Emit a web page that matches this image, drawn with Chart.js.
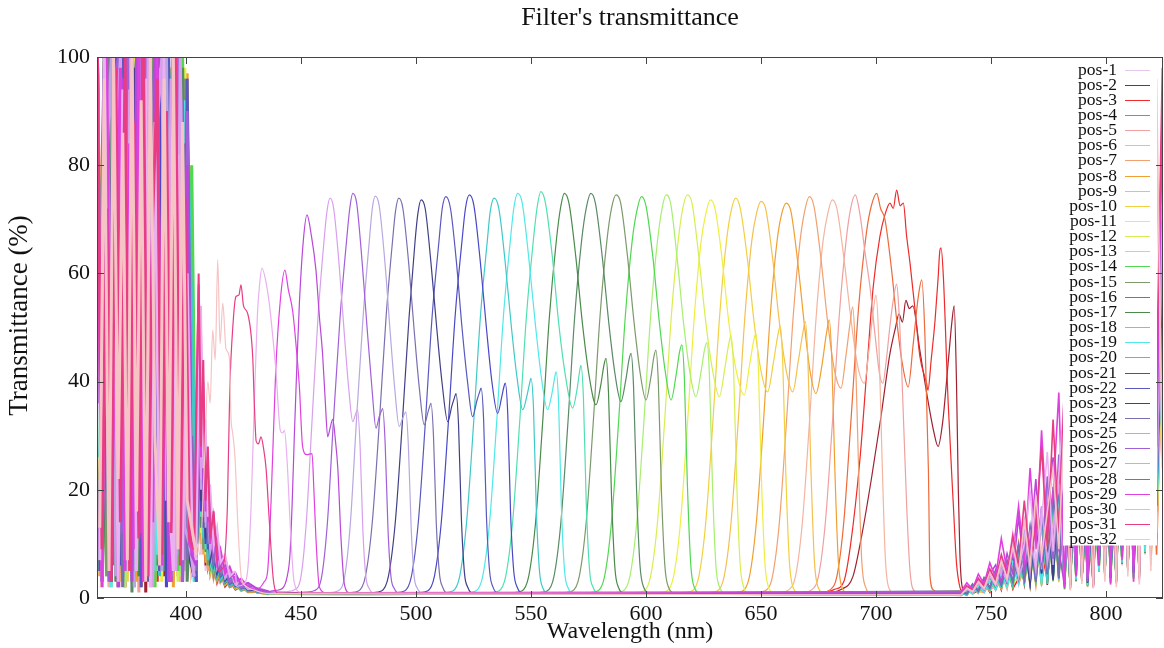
<!DOCTYPE html>
<html>
<head>
<meta charset="utf-8">
<title>Filter's transmittance</title>
<script src="https://cdn.jsdelivr.net/npm/chart.js@4.4.1/dist/chart.umd.min.js"></script>
<style>
  html, body { margin: 0; padding: 0; background: #fff; }
</style>
</head>
<body>
<canvas id="chart" width="1164" height="648"></canvas>
<script>
const seriesNames = ['pos-1', 'pos-2', 'pos-3', 'pos-4', 'pos-5', 'pos-6', 'pos-7', 'pos-8',
  'pos-9', 'pos-10', 'pos-11', 'pos-12', 'pos-13', 'pos-14', 'pos-15', 'pos-16',
  'pos-17', 'pos-18', 'pos-19', 'pos-20', 'pos-21', 'pos-22', 'pos-23', 'pos-24',
  'pos-25', 'pos-26', 'pos-27', 'pos-28', 'pos-29', 'pos-30', 'pos-31', 'pos-32'];

const wavelengthTicks = [400, 450, 500, 550, 600, 650, 700, 750, 800];
const transmittanceTicks = [0, 20, 40, 60, 80, 100];

// wavelengths (nm) of the sampled noise below 405 nm (odd / even positions)
const leftGridA = [361.5, 363.5, 365.5, 367.5, 369.5, 371.5, 373.5, 375.5, 377.5, 379.5, 381.5,
  383.5, 385.5, 387.5, 389.5, 391.5, 393.5, 395.5, 397.5, 399.5, 401.5, 403.5];
const leftGridB = [362.5, 364.5, 366.5, 368.5, 370.5, 372.5, 374.5, 376.5, 378.5, 380.5, 382.5,
  384.5, 386.5, 388.5, 390.5, 392.5, 394.5, 396.5, 398.5, 400.5, 402.5, 404.5];
const decayGrid = [405.5, 406.5, 407.5, 408.5, 409.5, 410.5, 412, 413.5, 415, 417, 419, 421.5, 424, 427, 431, 436];
const rightGrid = [737, 739.5, 742, 744.5, 747, 749.5, 752, 754.5, 757, 759.5, 762, 764.5, 767, 769.5,
  772, 774.5, 777, 779.5, 782, 784.5, 787, 789.5, 792, 794.5, 797, 799.5, 802, 804.5, 807, 809.5,
  812, 814.5, 817, 819.5, 822, 824.5];

// transmittance (%) on the grids above, one row per position
const leftNoise = [
  [88, 3, 95, 12, 100, 2, 72, 16, 98, 4, 85, 22, 100, 6, 92, 2, 97, 12, 88, 5, 60, 8],
  [6, 97, 18, 100, 2, 80, 10, 99, 7, 90, 1, 100, 20, 76, 4, 98, 14, 93, 3, 70, 10, 5],
  [96, 10, 100, 5, 70, 99, 2, 88, 24, 100, 6, 79, 95, 3, 100, 16, 82, 6, 96, 12, 55, 6],
  [62, 100, 4, 94, 14, 100, 8, 73, 99, 2, 88, 30, 100, 7, 91, 12, 100, 4, 78, 16, 25, 4],
  [100, 6, 85, 24, 100, 4, 97, 12, 90, 1, 100, 18, 80, 5, 99, 30, 9, 97, 3, 86, 20, 7],
  [14, 92, 2, 100, 34, 8, 100, 4, 84, 28, 97, 2, 72, 100, 10, 90, 5, 100, 24, 90, 5, 9],
  [98, 20, 100, 7, 87, 3, 100, 30, 95, 8, 70, 100, 4, 92, 18, 100, 7, 83, 100, 14, 72, 5],
  [4, 100, 28, 88, 6, 100, 16, 96, 3, 99, 12, 85, 100, 6, 76, 96, 2, 100, 20, 97, 12, 6],
  [90, 9, 100, 2, 96, 24, 100, 5, 80, 100, 14, 94, 4, 100, 30, 6, 98, 10, 92, 30, 80, 7],
  [22, 99, 5, 100, 10, 86, 3, 100, 30, 90, 7, 100, 20, 81, 100, 3, 95, 26, 100, 9, 45, 3],
  [100, 2, 90, 34, 100, 8, 95, 15, 100, 4, 88, 9, 100, 28, 3, 99, 16, 100, 6, 98, 40, 6],
  [9, 95, 38, 100, 4, 99, 24, 6, 100, 12, 96, 40, 2, 100, 50, 8, 100, 3, 90, 28, 14, 3],
  [94, 14, 100, 5, 78, 100, 2, 97, 18, 100, 5, 90, 28, 100, 8, 96, 24, 100, 4, 80, 30, 5],
  [5, 100, 12, 96, 28, 3, 100, 36, 7, 100, 22, 98, 2, 87, 100, 14, 94, 5, 100, 40, 80, 8],
  [100, 30, 4, 98, 9, 100, 18, 90, 2, 99, 32, 5, 100, 12, 92, 100, 4, 86, 20, 96, 10, 4],
  [16, 88, 100, 6, 97, 13, 100, 1, 92, 26, 100, 10, 82, 100, 5, 40, 100, 14, 98, 3, 22, 3],
  [99, 5, 34, 100, 3, 95, 9, 100, 40, 4, 100, 16, 96, 6, 100, 26, 3, 99, 34, 90, 7, 5],
  [8, 100, 15, 82, 100, 4, 92, 30, 100, 9, 86, 100, 5, 98, 18, 90, 100, 8, 84, 16, 55, 6],
  [100, 10, 96, 2, 100, 40, 5, 99, 13, 96, 3, 100, 30, 8, 100, 50, 4, 100, 11, 92, 40, 3],
  [26, 96, 4, 100, 20, 90, 100, 3, 86, 100, 9, 38, 100, 4, 94, 12, 100, 28, 5, 88, 54, 6],
  [100, 3, 88, 16, 100, 6, 96, 100, 4, 80, 100, 11, 94, 24, 100, 2, 90, 100, 13, 78, 9, 4],
  [5, 100, 28, 98, 8, 100, 13, 86, 100, 2, 97, 32, 100, 5, 82, 100, 10, 90, 3, 96, 12, 3],
  [96, 16, 100, 3, 90, 26, 100, 7, 98, 36, 100, 3, 86, 100, 13, 94, 7, 100, 30, 84, 8, 4],
  [12, 98, 6, 100, 40, 2, 94, 100, 11, 100, 5, 88, 100, 20, 96, 3, 100, 15, 92, 7, 30, 5],
  [100, 8, 80, 100, 4, 98, 18, 100, 2, 90, 28, 100, 9, 96, 5, 100, 36, 6, 100, 13, 10, 4],
  [36, 100, 3, 92, 100, 12, 100, 5, 96, 15, 100, 4, 98, 32, 100, 7, 88, 100, 3, 90, 14, 6],
  [98, 4, 100, 24, 84, 100, 7, 94, 30, 100, 10, 100, 2, 88, 100, 18, 96, 5, 100, 26, 12, 4],
  [9, 92, 16, 100, 2, 96, 36, 3, 100, 12, 90, 7, 100, 14, 86, 3, 98, 20, 9, 80, 8, 6],
  [90, 2, 100, 8, 60, 98, 5, 84, 9, 100, 3, 76, 14, 100, 6, 68, 3, 94, 12, 56, 10, 8],
  [7, 100, 12, 80, 3, 94, 16, 100, 5, 66, 96, 2, 88, 8, 100, 20, 5, 82, 7, 60, 14, 7],
  [100, 9, 72, 3, 98, 14, 100, 5, 88, 11, 100, 4, 70, 96, 8, 90, 12, 100, 6, 74, 11, 9],
  [13, 96, 5, 100, 22, 86, 7, 100, 16, 92, 3, 100, 30, 6, 96, 14, 100, 9, 88, 18, 13, 8]
];

const decayNoise = [
  [20, 8, 14, 5, 9, 4, 6, 2.5, 4, 2, 3, 1.5, 2, 1, 1.2, 0.8],
  [28, 10, 18, 6, 11, 5, 7, 3, 5, 2.2, 3.2, 1.6, 2.2, 1.1, 1.3, 0.9],
  [15, 24, 9, 13, 6, 9, 4, 6, 3, 4, 2, 2.5, 1.4, 1.8, 1, 0.7],
  [32, 12, 20, 7, 12, 5, 8, 3.5, 5, 2.5, 3.5, 1.8, 2.4, 1.2, 1.4, 0.9],
  [18, 26, 10, 15, 7, 10, 5, 6.5, 3.5, 4.2, 2.2, 2.8, 1.5, 1.9, 1.1, 0.8],
  [36, 14, 22, 8, 13, 6, 8.5, 4, 5.5, 2.8, 3.8, 2, 2.5, 1.3, 1.5, 1],
  [12, 22, 8, 14, 5, 9, 3.5, 6, 2.8, 4, 2, 2.6, 1.3, 1.7, 1, 0.8],
  [30, 10, 19, 6.5, 12, 4.5, 7.5, 3.2, 5, 2.4, 3.3, 1.7, 2.3, 1.1, 1.3, 0.9],
  [22, 30, 12, 17, 8, 11, 5, 7, 3.5, 4.5, 2.4, 3, 1.6, 2, 1.1, 0.8],
  [38, 15, 24, 9, 14, 6, 9, 4, 6, 3, 4, 2, 2.6, 1.3, 1.5, 1],
  [16, 28, 10, 16, 6, 10, 4.5, 6.5, 3, 4.3, 2.2, 2.8, 1.5, 1.8, 1, 0.7],
  [34, 12, 21, 8, 13, 5, 8, 3.8, 5.2, 2.6, 3.6, 1.8, 2.4, 1.2, 1.4, 0.9],
  [20, 32, 12, 18, 8, 12, 5.5, 7.5, 3.8, 4.8, 2.5, 3.1, 1.7, 2, 1.2, 0.8],
  [42, 16, 26, 10, 15, 6.5, 9.5, 4.2, 6.2, 3, 4.2, 2.1, 2.7, 1.4, 1.6, 1],
  [14, 25, 9, 15, 6, 9.5, 4, 6.2, 3, 4.1, 2.1, 2.7, 1.4, 1.8, 1, 0.8],
  [36, 13, 22, 8.5, 13.5, 5.5, 8.5, 3.8, 5.5, 2.7, 3.7, 1.9, 2.5, 1.2, 1.5, 0.9],
  [24, 34, 13, 19, 8.5, 12, 5.5, 7.5, 3.8, 4.8, 2.5, 3.1, 1.7, 2.1, 1.2, 0.8],
  [40, 15, 25, 9, 15, 6, 9, 4, 6, 3, 4, 2, 2.6, 1.3, 1.5, 1],
  [54, 20, 30, 11, 17, 8, 11, 5, 7, 3.5, 4.6, 2.4, 3, 1.5, 1.7, 1.1],
  [18, 30, 11, 17, 7, 11, 5, 7, 3.4, 4.5, 2.3, 2.9, 1.5, 1.9, 1.1, 0.8],
  [44, 16, 28, 10, 16, 7, 10, 4.5, 6.5, 3.2, 4.3, 2.2, 2.8, 1.4, 1.6, 1],
  [22, 36, 13, 20, 9, 13, 6, 8, 4, 5, 2.6, 3.2, 1.8, 2.1, 1.2, 0.9],
  [48, 18, 30, 11, 18, 7.5, 11, 5, 7, 3.4, 4.5, 2.3, 2.9, 1.5, 1.7, 1.1],
  [26, 40, 15, 22, 10, 14, 6.5, 8.5, 4.2, 5.2, 2.7, 3.3, 1.8, 2.2, 1.3, 0.9],
  [50, 20, 34, 13, 20, 8.5, 12, 5.5, 7.5, 3.6, 4.8, 2.4, 3, 1.6, 1.8, 1.1],
  [30, 45, 18, 26, 12, 16, 7.5, 10, 5, 6, 3, 4, 2, 2.4, 1.4, 1],
  [52, 22, 36, 14, 22, 9, 13, 6, 8, 4, 5.2, 2.6, 3.2, 1.7, 1.9, 1.2],
  [36, 50, 22, 30, 14, 19, 9, 12, 6, 7.5, 3.8, 4.6, 2.4, 2.8, 1.7, 1.2],
  [58, 26, 40, 16, 25, 10, 15, 6.5, 9, 4.5, 5.8, 3, 3.6, 2, 2.1, 1.3],
  [40, 54, 24, 33, 15, 21, 9.5, 13, 6.5, 8, 4, 5, 2.6, 3, 1.8, 1.2],
  [60, 28, 44, 18, 28, 11, 16, 7, 10, 5, 6, 3.2, 3.8, 2.1, 2.2, 1.4],
  [46, 20, 32, 12, 20, 8, 12, 5, 7.5, 3.6, 4.8, 2.5, 3, 1.6, 1.8, 1.2]
];

// pass band of each position: [wavelength nm, transmittance %]
const passBands = [
  [[438, 0.7], [480, 0.5], [530, 0.9], [590, 0.6], [650, 0.8], [700, 0.5], [734, 0.9]],
  [[672, 0.8], [680, 1], [685, 1.6], [690, 4], [694, 12], [698, 22], [702, 33], [706, 45], [708.5, 50], [710, 52.5], [711.5, 51], [713, 55], [714.5, 53.5], [716, 54], [719, 46], [722, 38], [725, 31], [727, 28], [729, 32.5], [731.5, 44], [733, 51], [734, 54], [735, 40], [735.8, 20], [736.5, 8], [737.5, 2]],
  [[676, 1], [682, 1.6], [686, 3], [689, 10], [693, 25.5], [696, 42], [698.8, 57.5], [701.7, 66.8], [704, 71], [706.1, 73], [707.5, 72], [709, 75.4], [710.5, 72.5], [711.9, 73], [713.3, 67], [714.8, 61.9], [717, 53.2], [719.1, 44.6], [722, 39.7], [722.6, 38.4], [724, 44], [725.7, 51.4], [727, 59], [727.8, 64.3], [728.3, 64.7], [729.3, 59.4], [731.4, 36], [733.6, 17.5], [735, 6.5], [736.5, 2], [738, 1]],
  [[668, 0.8], [676, 1], [680, 1.5], [683, 4], [686, 14], [689, 32], [692.5, 54], [696, 68], [698, 72.5], [700.3, 74.8], [702, 72], [703.9, 70], [706.8, 60.6], [709, 51.4], [711.2, 44], [714, 39], [716.2, 47], [718.4, 55.7], [719.9, 58.8], [721.3, 48.3], [722.8, 23.7], [723.5, 4], [725, 1.5], [728, 0.8]],
  [[660, 0.8], [668, 1], [672, 1.5], [675, 4], [678, 14], [681, 32], [684, 52], [687, 66], [689, 72], [691, 74.5], [693, 71], [695.2, 64], [697.4, 57.5], [699.5, 49], [701.7, 41], [703, 39.7], [704.5, 44], [706, 50], [707.5, 55], [709, 58], [710, 53], [711.2, 42], [713.3, 17.5], [714.8, 5], [717, 1.2], [720, 0.8]],
  [[650, 0.8], [658, 1], [662, 1.5], [665, 4], [668, 14], [671, 32], [674, 52], [677, 66], [679, 71], [681, 73.6], [683, 72], [686, 63], [689, 52], [692, 43], [694.9, 39.7], [697, 46], [698.8, 53], [700, 56], [701.2, 48], [702.5, 28], [704, 8], [705.5, 2], [708, 1]],
  [[640, 0.8], [648, 1], [652, 1.4], [655, 4], [658, 14], [661, 32], [664, 52], [667, 66], [669, 71.5], [671, 74.2], [673, 72.5], [676, 63], [679, 51], [682, 42], [684.8, 38.8], [687, 45], [688.8, 51], [689.9, 53.8], [691, 46], [692.3, 26], [693.8, 7], [695.5, 2], [698, 0.8]],
  [[630, 0.8], [638, 1], [642, 1.3], [645, 4], [648, 14], [651, 32], [654, 52], [657, 66], [659, 71], [661, 73], [663, 71.5], [666, 62], [669, 50], [671.5, 41.5], [673.9, 37.8], [676.5, 43], [678.5, 49], [679.7, 51.4], [680.8, 44], [682.1, 24], [683.6, 7], [685.2, 2], [688, 0.8]],
  [[620, 0.8], [627, 1], [631, 1.3], [634, 4], [637, 14], [640, 32], [643, 52], [646, 66], [648, 71], [650, 73.3], [652, 72], [655, 63], [658, 51], [661, 42], [663.8, 38.1], [666.3, 44], [668.2, 49], [669.3, 51.1], [670.4, 44], [671.7, 24], [673.2, 7], [674.8, 2], [678, 0.8]],
  [[608, 0.8], [616, 1], [620, 1.3], [623, 4], [626, 14], [629, 32], [632, 52], [635, 66], [637, 71.5], [639, 73.9], [641, 72], [644, 63], [647, 51], [650, 42], [652.9, 38.1], [655.4, 43.5], [657.3, 48.5], [658.4, 50.3], [659.5, 43], [660.8, 23], [662.3, 7], [663.9, 2], [667, 0.8]],
  [[598, 0.8], [605, 1], [609, 1.3], [612, 4], [615, 14], [618, 32], [621, 52], [624, 66], [626, 71], [628, 73.6], [630, 72], [633, 63], [636, 51], [639.5, 41.5], [642.7, 37.5], [645, 43], [646.8, 47.5], [647.8, 48.9], [648.9, 42], [650.2, 22], [651.7, 6.5], [653.3, 2], [656, 0.8]],
  [[588, 0.8], [595, 1], [599, 1.3], [602, 4], [605, 14], [608, 32], [611, 52], [614, 66], [616, 72], [618, 74.5], [620, 73], [623, 63], [626, 51], [629, 42], [631.9, 37.2], [634.3, 42.5], [636, 47], [637, 48.5], [638.1, 42], [639.4, 22], [640.9, 6.5], [642.5, 2], [645, 0.8]],
  [[578, 0.8], [586, 1], [590, 1.3], [593, 4], [596, 14], [599, 32], [602, 52], [605, 66], [607, 72], [608.7, 74.5], [610.7, 73], [613.5, 63], [616.3, 51], [619, 42], [621.7, 37.2], [624, 42], [625.5, 46], [626.5, 47.2], [627.6, 41], [628.9, 21], [630.4, 6], [632, 2], [635, 0.8]],
  [[568, 0.8], [575, 1], [579, 1.3], [582, 4], [585, 14], [588, 32], [591, 52], [594, 66], [596, 71.5], [598, 74.2], [600, 72.5], [603, 63], [605.8, 51], [608.5, 41.5], [610.9, 36.6], [613.2, 41.5], [614.6, 45.5], [615.6, 46.8], [616.7, 40.5], [618, 21], [619.5, 6], [621, 2], [624, 0.8]],
  [[556, 0.8], [564, 1], [568, 1.3], [571, 4], [574, 14], [577, 32], [580, 52], [583, 66], [585, 72], [587, 74.5], [589, 73], [592, 63], [594.8, 51], [597.5, 41.5], [600, 36.6], [602.2, 41], [603.4, 44.5], [604.3, 45.8], [605.4, 39.5], [606.7, 20], [608.2, 6], [609.8, 2], [613, 0.8]],
  [[546, 0.8], [553, 1], [557, 1.3], [560, 4], [563, 14], [566, 32], [569, 52], [572, 66], [574, 72], [576, 74.8], [578, 73], [581, 63], [583.8, 51], [586.5, 41.5], [589.1, 36.3], [591.3, 40.5], [592.6, 44], [593.5, 45.2], [594.6, 39], [595.9, 20], [597.4, 6], [599, 2], [602, 0.8]],
  [[535, 0.8], [542, 1], [546, 1.3], [549, 4], [552, 14], [555, 32], [558, 52], [561, 66], [562.8, 72], [564.5, 74.8], [566.5, 73], [569.5, 63], [572.3, 51], [575.3, 41], [578.3, 35.7], [580.4, 39.5], [581.7, 43], [582.6, 44.3], [583.7, 38], [585, 19], [586.5, 5.5], [588, 2], [591, 0.8]],
  [[525, 0.8], [532, 1], [536, 1.3], [539, 4], [542, 14], [545, 32], [548, 52], [551, 66], [552.6, 72], [554.3, 75.1], [556.3, 73], [559.3, 63], [562, 51], [565, 41], [568.1, 35.1], [570, 38.5], [571, 41.5], [571.7, 43], [572.8, 37], [574, 18], [575.5, 5], [577, 2], [580, 0.8]],
  [[514, 0.8], [522, 1], [526, 1.3], [529, 4], [532, 14], [535, 32], [538, 52], [541, 66], [542.5, 72], [544.2, 74.8], [546.2, 73], [549, 63], [551.8, 51], [554.6, 40.5], [557.2, 34.8], [559.2, 38], [560.2, 40.5], [560.9, 41.8], [562, 36], [563.2, 17], [564.6, 5], [566, 2], [569, 0.8]],
  [[504, 0.8], [512, 1], [516, 1.3], [519, 4], [522, 14], [525, 32], [528, 52], [531, 66], [532.3, 71.5], [534, 73.9], [536, 72], [538.8, 62], [541.5, 50], [544, 40.5], [546.4, 34.8], [548.3, 37.5], [549.3, 39.5], [550, 40.6], [551.1, 35], [552.3, 16.5], [553.7, 5], [555, 2], [558, 0.8]],
  [[494, 0.8], [501, 1], [505, 1.3], [508, 4], [511, 14], [514, 32], [517, 52], [520, 66], [521.5, 72], [523.2, 74.5], [525.2, 72.5], [528, 62], [530.6, 50], [533, 40], [535.5, 34.1], [537.2, 37], [538.2, 39], [538.8, 39.7], [539.9, 34], [541.1, 16], [542.5, 5], [544, 2], [547, 0.8]],
  [[484, 0.8], [491, 1], [495, 1.3], [498, 4], [501, 14], [504, 32], [507, 52], [510, 66], [511.4, 72], [513, 74.2], [515, 72], [517.6, 62], [520, 50], [522.4, 40], [524.6, 33.5], [526.5, 36.5], [527.6, 38], [528.3, 38.8], [529.4, 33], [530.6, 15.5], [532, 5], [533.5, 2], [536, 0.8]],
  [[474, 0.8], [481, 1], [485, 1.3], [488, 4], [491, 14], [494, 32], [497, 52], [499.6, 66], [500.8, 71], [502.2, 73.6], [504, 72], [506.5, 62], [509, 50], [511.4, 39.5], [513.8, 32.6], [515.6, 35.5], [516.7, 37], [517.4, 37.8], [518.5, 32], [519.7, 15], [521.1, 4.5], [522.5, 2], [525, 0.8]],
  [[464, 0.8], [471, 1], [475, 1.3], [478, 4], [481, 14], [484, 32], [487, 52], [489.8, 66], [491.1, 71.5], [492.5, 73.9], [494.3, 72], [496.8, 62], [499.2, 49.5], [501.4, 39], [503.6, 32], [505, 34], [506, 35.5], [506.5, 36], [507.6, 30], [508.8, 14], [510.2, 4.5], [511.6, 2], [514, 0.8]],
  [[455, 0.8], [462, 1], [466, 1.3], [469, 4], [471.5, 14], [474, 32], [477, 52], [479.7, 66], [481, 72], [482.3, 74.3], [484, 72.5], [486.5, 62], [488.8, 49], [490.8, 38.5], [492.7, 31.7], [494, 33], [495, 34], [495.6, 34.4], [496.7, 28], [497.9, 13], [499.2, 4], [500.6, 1.8], [503, 0.8]],
  [[445, 0.9], [452, 1.1], [456, 1.4], [459, 4], [461.5, 14], [464, 32], [467, 52], [469.8, 66], [471.2, 72], [472.5, 74.8], [474.2, 73], [476.6, 62], [478.9, 49], [480.9, 38.5], [482.6, 31.4], [484, 33.5], [485, 34.6], [485.5, 35], [486.6, 28.5], [487.8, 13], [489.1, 4], [490.5, 1.8], [493, 0.8]],
  [[440, 1], [444, 1.2], [447, 1.5], [450, 4], [452.3, 14], [454.7, 32], [457.4, 52], [460, 66], [461.3, 71.5], [462.6, 73.9], [464.2, 72], [466.5, 62], [468.8, 49], [470.8, 38.5], [472.5, 32.6], [473.6, 33.8], [474.6, 34.8], [475.7, 28], [476.9, 12.5], [478.2, 4], [479.6, 1.8], [482, 0.8]],
  [[439, 1.4], [442, 1.8], [444, 4], [445.2, 8], [446.2, 18], [447.1, 30], [448.2, 43], [449.3, 54.5], [451, 66], [452.6, 70.8], [454.5, 67], [456.5, 60.6], [458, 52], [459.4, 45], [460.6, 36], [461.6, 29.8], [462.7, 31.5], [463.8, 33], [465, 29], [466, 24], [467.4, 11], [468.8, 2.7], [471, 1]],
  [[431, 1.6], [434, 3], [435.5, 5], [437, 18], [439, 42], [441, 55], [443, 60.6], [444.5, 57], [446.4, 53], [448, 46], [449.3, 39], [450.7, 28], [452.5, 26.5], [454.8, 26.7], [455.6, 20], [456.5, 11], [458, 2], [461, 1]],
  [[422, 2.2], [425, 2.5], [427, 6], [428.3, 17], [429.7, 36], [431, 52], [432, 58], [433, 61], [434.5, 59], [436.2, 54.5], [437.8, 48], [439.1, 42], [441, 31], [442, 30.5], [442.8, 31], [444, 25], [445.5, 12], [447, 3], [450, 1]],
  [[414, 5], [416, 5.5], [418, 17], [419, 38], [420.5, 51], [421.7, 55.7], [423, 56], [423.9, 57.9], [425, 54], [426.8, 52.6], [429, 44.6], [429.7, 36], [430.5, 29], [431.5, 28.5], [432.6, 29.8], [433.6, 28], [434.8, 24], [436.2, 14.4], [438, 3.3], [440, 0.9]],
  [[405, 10], [406, 8], [408, 25], [409.5, 40], [410.5, 36], [411.6, 49.5], [412.7, 44], [413.8, 62.5], [414.8, 47], [416, 54.5], [417.4, 46], [418.8, 44.6], [419.6, 33], [420.3, 30.5], [421.3, 26], [422.5, 14], [424, 4], [426, 2.2], [430, 1.4], [436, 0.8]]
];

const rightNoise = [
  [0.5, 1.6, 0.7, 2.4, 1.0, 3.8, 1.4, 5.2, 1.8, 7.5, 2.5, 10, 3.1, 13, 2.2, 16, 3.5, 19, 1.5, 24, 3, 31, 2, 18, 5, 34, 2.5, 26, 6, 38, 3, 29, 8, 42, 12, 50],
  [1.2, 0.6, 2.0, 0.9, 3.2, 1.2, 4.6, 1.5, 6.4, 2.0, 9.5, 2.6, 12, 3.2, 15.5, 2.4, 18, 4.2, 20, 2.0, 27, 3.5, 16, 2.2, 30, 4.5, 23, 2.8, 35, 5.5, 27, 3.8, 40, 9, 22, 46],
  [0.6, 1.9, 0.8, 1.4, 2.8, 1.1, 4.4, 2.0, 6.8, 1.7, 3.6, 11, 2.4, 14.5, 3.0, 9, 17.5, 3.8, 22, 1.8, 29, 3.2, 19, 2.4, 33, 4.2, 25, 3.0, 37, 5.2, 30, 7.5, 41, 12, 17, 54],
  [1.0, 0.5, 2.3, 1.3, 1.1, 3.4, 1.6, 5.0, 2.1, 7.8, 3.0, 6.2, 10.5, 2.8, 14, 4.0, 12, 20, 2.2, 26, 3.8, 33, 2.6, 21, 5.5, 36, 3.2, 28, 7, 40, 4, 31, 9, 44, 8, 48],
  [0.4, 1.4, 0.9, 2.6, 1.2, 4.1, 1.8, 3.0, 5.8, 2.2, 8.5, 3.0, 11.8, 2.6, 15, 4.4, 18.5, 3.2, 23, 1.6, 30, 3.6, 20, 2.6, 34, 4.6, 26, 3.4, 38, 5.4, 30, 4.2, 42, 10, 18, 58],
  [1.1, 0.7, 1.8, 0.9, 3.0, 1.3, 2.4, 4.6, 1.6, 6.6, 2.8, 9.8, 3.4, 12.8, 2.3, 16.5, 4.0, 21, 1.9, 27, 3.2, 34, 2.1, 22, 4.8, 37, 2.9, 29, 6.2, 41, 3.6, 32, 8.4, 45, 13, 40],
  [0.5, 1.7, 0.8, 2.2, 1.0, 3.3, 1.5, 4.8, 2.0, 7.0, 2.6, 5.4, 9.6, 3.4, 13.4, 3.0, 16.8, 4.6, 21.5, 1.7, 28.5, 3.3, 18.5, 2.3, 32.5, 4.3, 24.5, 3.1, 36.5, 5.1, 28.5, 4.1, 40.5, 7, 21, 48],
  [0.9, 0.6, 2.1, 1.1, 3.3, 1.4, 4.9, 1.9, 6.2, 2.4, 10.2, 2.9, 8.4, 12.4, 3.6, 15.8, 3.2, 19.5, 1.8, 25.5, 3.4, 32.5, 2.4, 20.5, 5.4, 35.5, 3.2, 27.5, 6.8, 39.5, 4.0, 30.5, 8.8, 43.5, 11, 52],
  [0.6, 1.5, 1.0, 2.7, 1.3, 2.0, 3.9, 1.7, 5.6, 2.3, 7.9, 3.1, 11.2, 2.5, 14.6, 3.7, 18.2, 2.9, 22.5, 1.9, 29.5, 3.5, 19.5, 2.5, 33.5, 4.5, 25.5, 3.3, 37.5, 5.3, 29.5, 4.3, 41.5, 10, 20, 50],
  [1.3, 0.7, 2.4, 1.0, 1.4, 3.5, 1.9, 5.3, 2.6, 7.2, 3.3, 10.8, 2.7, 13.6, 4.1, 11.5, 17.2, 3.5, 21, 2.1, 28, 3.7, 18, 2.7, 32, 4.7, 24, 3.5, 36, 5.5, 28, 4.5, 40, 9.5, 23, 47],
  [0.5, 1.3, 0.9, 2.3, 1.2, 3.6, 1.7, 4.5, 2.1, 6.0, 2.7, 9.0, 3.5, 12.2, 2.4, 15.2, 3.9, 18.8, 2.0, 24.5, 3.6, 31.5, 2.2, 20, 5, 34.5, 3, 26.5, 6.6, 38.5, 3.8, 29.5, 8.6, 42.5, 14, 45],
  [1.0, 0.6, 2.2, 1.1, 3.1, 1.5, 4.3, 1.9, 5.9, 2.5, 4.2, 9.4, 3.0, 12.6, 2.6, 16.2, 4.3, 19.8, 1.8, 25, 3.2, 32, 2.3, 20.5, 5.2, 35, 3.1, 27, 6.4, 39, 3.9, 30, 8.2, 43, 12, 49],
  [0.6, 1.8, 0.8, 2.5, 1.4, 3.7, 2.0, 5.1, 2.4, 7.3, 3.1, 10.4, 2.5, 13.2, 3.8, 16.6, 3.0, 20.4, 2.3, 26, 3.9, 33, 2.5, 21, 5.6, 36, 3.4, 28, 7.2, 40, 4.3, 31, 9.2, 44, 15, 55],
  [1.1, 0.5, 1.9, 1.0, 2.9, 1.4, 4.0, 2.1, 5.4, 2.0, 8.2, 2.8, 11.4, 3.3, 14.8, 2.7, 18.6, 4.5, 20.5, 2.2, 27.5, 3.6, 17.5, 2.6, 31.5, 4.6, 23.5, 3.2, 35.5, 5.6, 27.5, 4.4, 39.5, 9, 21, 44],
  [0.5, 1.4, 0.9, 2.0, 1.1, 3.1, 1.6, 4.3, 2.2, 6.4, 2.9, 9.2, 3.3, 12.0, 2.5, 15.0, 3.6, 18.0, 2.1, 24, 3.5, 31, 2.4, 19, 5.1, 34, 3.1, 26, 6.7, 38, 4.0, 29, 8.7, 42, 16, 52],
  [0.9, 0.7, 2.0, 1.2, 3.2, 1.6, 4.5, 2.0, 6.1, 2.6, 8.8, 3.0, 11.6, 3.5, 15.4, 2.8, 19.2, 4.1, 22, 1.9, 29, 3.3, 19, 2.5, 33, 4.3, 25, 3.1, 37, 5.3, 29, 4.1, 41, 9.5, 20, 45],
  [0.6, 1.7, 1.1, 2.6, 1.5, 3.9, 1.9, 5.5, 2.5, 7.7, 3.2, 10.9, 2.6, 13.9, 4.0, 17.4, 3.2, 20.9, 1.7, 26.5, 3.1, 33.5, 2.2, 21.5, 4.9, 36.5, 2.8, 28.5, 6.3, 40.5, 3.6, 31.5, 8.3, 44.5, 16, 56],
  [1.2, 0.6, 2.3, 1.2, 3.4, 1.7, 4.7, 2.2, 6.3, 2.8, 9.1, 3.4, 12.1, 2.9, 15.7, 4.3, 19.4, 3.3, 21, 2.3, 28, 3.9, 18, 2.9, 32, 4.9, 24, 3.7, 36, 5.7, 28, 4.7, 40, 10, 22, 47],
  [0.5, 1.5, 0.8, 2.2, 1.1, 3.2, 1.5, 4.6, 2.0, 6.8, 2.7, 9.9, 3.4, 12.9, 2.5, 16.0, 3.8, 19.3, 2.0, 25, 3.4, 32, 2.3, 20, 5.0, 35, 3.0, 27, 6.5, 39, 3.9, 30, 8.5, 43, 14, 50],
  [1.0, 0.6, 2.1, 1.1, 3.0, 1.5, 4.2, 2.0, 5.7, 2.4, 8.6, 2.9, 11.8, 3.3, 15.0, 2.6, 18.4, 4.0, 21.5, 2.1, 28.5, 3.5, 18.5, 2.6, 32.5, 4.5, 24.5, 3.3, 36.5, 5.3, 28.5, 4.3, 40.5, 9, 21, 45],
  [0.7, 1.9, 1.1, 2.9, 1.6, 4.2, 2.3, 5.8, 3.0, 8.2, 3.6, 11.6, 2.8, 14.9, 4.5, 18.4, 3.4, 22.0, 2.6, 27, 4.2, 34, 2.8, 22, 6, 37, 3.6, 29, 7.6, 41, 4.6, 32, 9.6, 45, 17, 58],
  [1.2, 0.8, 2.5, 1.3, 3.6, 1.9, 5.0, 2.4, 6.6, 3.0, 9.6, 3.5, 12.8, 3.0, 16.4, 4.4, 20.0, 3.6, 22, 2.4, 29, 4, 19, 3, 33, 5, 25, 3.8, 37, 5.9, 29, 4.8, 41, 10, 24, 49],
  [0.8, 2.0, 1.2, 3.0, 1.7, 4.3, 2.4, 5.9, 3.1, 8.4, 3.7, 11.9, 2.9, 15.2, 4.6, 18.8, 3.5, 22.4, 2.7, 27.5, 4.3, 34.5, 2.9, 22.5, 6.1, 37.5, 3.7, 29.5, 7.7, 41.5, 4.7, 32.5, 9.7, 45.5, 18, 60],
  [1.3, 0.9, 2.6, 1.4, 3.8, 2.0, 5.2, 2.5, 6.8, 3.1, 9.9, 3.6, 13.1, 3.1, 16.8, 4.5, 20.5, 3.7, 22.5, 2.5, 29.5, 4.1, 19.5, 3.1, 33.5, 5.1, 25.5, 3.9, 37.5, 6, 29.5, 4.9, 41.5, 11, 25, 50],
  [0.7, 1.8, 1.1, 2.8, 1.6, 4.2, 2.3, 6.0, 3.0, 8.6, 3.7, 12.5, 4.4, 16.4, 5.3, 20, 6.1, 24, 2.8, 27, 5.2, 34, 3.6, 24, 7.6, 38, 4.6, 30, 9.6, 42, 6, 34, 12, 48, 18, 66],
  [1.0, 2.1, 1.4, 3.4, 2.0, 5.0, 2.8, 7.2, 3.6, 9.8, 4.4, 14, 5.2, 18.2, 6.2, 22.5, 7.2, 26.5, 3.4, 29, 6, 36, 4.2, 27, 8.6, 41, 5.4, 33, 10.6, 46, 7, 38, 13, 53, 20, 70],
  [0.7, 1.6, 1.1, 2.7, 1.6, 4.0, 2.3, 5.2, 3.1, 9.4, 4.0, 7, 12, 5.0, 17, 6.5, 13, 21, 2.8, 30, 5.6, 36, 4.0, 27, 8.6, 42, 5.0, 34, 10.6, 48, 6.8, 40, 14, 56, 20, 72],
  [0.9, 2.2, 1.4, 3.6, 2.2, 4.4, 6.1, 3.0, 8.2, 4.5, 15, 5.4, 9, 22, 6.8, 14, 26, 9, 2.2, 40, 4.8, 46, 3.8, 36, 7.6, 54, 4, 44, 9.5, 60, 5.5, 52, 13.5, 68, 28, 88],
  [1.2, 2.8, 1.6, 4.4, 2.6, 6.5, 3.8, 11, 5.0, 8, 17, 6.5, 24, 9, 31, 12, 19, 38, 2, 46, 4, 54, 3, 42, 6, 60, 2.5, 50, 7, 66, 3, 58, 10, 74, 34, 92],
  [0.7, 2.0, 1.3, 3.4, 2.0, 5.2, 3.0, 7.6, 4.0, 12, 5.5, 10, 20, 6.4, 14, 27, 8.6, 23, 38, 2, 44, 3.4, 35, 1.8, 52, 4, 42, 2.6, 58, 5, 50, 3, 66, 6, 84, 26],
  [0.8, 2.2, 1.5, 3.6, 2.2, 5.4, 3.2, 8, 4.5, 11.5, 6, 18, 7, 13, 28, 9.5, 33, 12, 40, 2.5, 47, 4, 36, 2, 55, 5, 45, 3, 61, 6, 53, 3.5, 69, 8, 40, 98],
  [0.6, 1.8, 1.2, 3.0, 1.8, 4.6, 2.6, 6.8, 3.6, 9.5, 4.6, 14, 5.8, 19, 7.6, 16, 24, 9, 34, 1.4, 40, 2.6, 31, 1.8, 48, 3, 38, 2, 54, 4, 46, 2.5, 62, 5, 96, 24]
];

const seriesColors = ['#e6c8ec', '#a02030', '#ee2a2a', '#ee6a3a', '#f0a0a0', '#f4b4a0', '#f2a070', '#f0a030',
  '#f4c050', '#f2d040', '#eeee40', '#d8ee50', '#a8ee70', '#50d850', '#7c9a6a', '#5a8a66',
  '#4a8a4a', '#50e0b0', '#50e8e8', '#40c8c8', '#4848c8', '#5858c0', '#404088', '#7a70b0',
  '#b8a8e0', '#a060d8', '#d8a0ec', '#b848d8', '#e040e0', '#eab0f0', '#e83c84', '#f6c4c4'];

const serif = "'Liberation Serif', 'Times New Roman', serif";

// each position is drawn as three pieces: noisy UV end (straight segments),
// smooth pass band, noisy IR end. Later positions are painted on top, as in gnuplot.
const datasets = [];
seriesNames.forEach((name, i) => {
  const band = passBands[i];
  const start = band[0][0];
  const end = band[band.length - 1][0];
  const grid = i % 2 === 0 ? leftGridA : leftGridB;
  const left = [];
  grid.forEach((x, k) => { if (x < start) left.push({ x, y: leftNoise[i][k] }); });
  decayGrid.forEach((x, k) => { if (x < start) left.push({ x, y: decayNoise[i][k] }); });
  const right = [];
  rightGrid.forEach((x, k) => { if (x > end) right.push({ x, y: rightNoise[i][k] }); });
  const mid = [left[left.length - 1], ...band.map(([x, y]) => ({ x, y })), right[0]];
  const common = { label: name, borderColor: seriesColors[i], pointRadius: 0, order: seriesNames.length - 1 - i };
  datasets.push({
    ...common,
    data: left,
    borderWidth: 2,
    segment: { borderWidth: ctx => (ctx.p1.parsed.x <= 405 ? 3 : 2) }
  });
  datasets.push({ ...common, data: mid, borderWidth: 1.2, cubicInterpolationMode: 'monotone' });
  datasets.push({ ...common, data: right, borderWidth: 1.6 });
});

// gnuplot-style key: opaque box inside the plot, text then line sample
const keyPlugin = {
  id: 'key',
  afterDatasetsDraw(chart) {
    const { ctx, chartArea } = chart;
    const right = chartArea.right - 6;
    const left = right - 94;
    const top = chartArea.top + 0.5;
    ctx.save();
    ctx.fillStyle = '#fff';
    ctx.fillRect(left, top, right - left, 488);
    ctx.font = '17.5px ' + serif;
    ctx.textAlign = 'right';
    ctx.textBaseline = 'middle';
    ctx.lineWidth = 1;
    seriesNames.forEach((name, i) => {
      const y = Math.round(top + 12 + i * 15.15);
      ctx.fillStyle = '#111';
      ctx.fillText(name, right - 40, y);
      ctx.strokeStyle = seriesColors[i];
      ctx.beginPath();
      ctx.moveTo(right - 32, y + 0.5);
      ctx.lineTo(right - 7, y + 0.5);
      ctx.stroke();
    });
    ctx.restore();
  }
};

// border box with inward ticks on all four sides, plus the vertical axis label
const framePlugin = {
  id: 'frame',
  afterDraw(chart) {
    const { ctx, chartArea: a, scales } = chart;
    ctx.save();
    ctx.strokeStyle = '#444';
    ctx.lineWidth = 1;
    ctx.strokeRect(a.left + 0.5, a.top + 0.5, a.right - a.left - 1, a.bottom - a.top - 1);
    ctx.beginPath();
    wavelengthTicks.forEach(v => {
      const x = Math.round(scales.x.getPixelForValue(v)) + 0.5;
      ctx.moveTo(x, a.bottom); ctx.lineTo(x, a.bottom - 7);
      ctx.moveTo(x, a.top); ctx.lineTo(x, a.top + 7);
    });
    transmittanceTicks.forEach(v => {
      const y = Math.round(scales.y.getPixelForValue(v)) + 0.5;
      ctx.moveTo(a.left, y); ctx.lineTo(a.left + 7, y);
      ctx.moveTo(a.right, y); ctx.lineTo(a.right - 7, y);
    });
    ctx.stroke();

    ctx.translate(20, (a.top + a.bottom) / 2 - 12);
    ctx.rotate(-Math.PI / 2);
    ctx.fillStyle = '#111';
    ctx.font = '27px ' + serif;
    ctx.textAlign = 'center';
    ctx.textBaseline = 'middle';
    ctx.fillText('Transmittance (%)', 0, 0);
    ctx.restore();
  }
};

new Chart(document.getElementById('chart'), {
  type: 'line',
  data: { datasets },
  options: {
    responsive: false,
    animation: false,
    events: [],
    parsing: false,
    devicePixelRatio: 1,
    layout: { padding: { left: 0, right: 1, top: 0, bottom: 0 } },
    plugins: {
      legend: { display: false },
      tooltip: { enabled: false },
      title: {
        display: true,
        text: "Filter's transmittance",
        color: '#111',
        fullSize: false,
        font: { family: serif, size: 26, weight: 'normal' },
        padding: { top: 3, bottom: 22.8 }
      }
    },
    scales: {
      x: {
        type: 'linear',
        min: 361.3,
        max: 824.8,
        afterBuildTicks: axis => { axis.ticks = wavelengthTicks.map(v => ({ value: v })); },
        afterFit: axis => { axis.height = 50; },
        grid: { display: false, drawTicks: false },
        border: { display: false },
        ticks: { color: '#111', font: { family: serif, size: 22 }, padding: 3, maxRotation: 0, autoSkip: false },
        title: { display: true, text: 'Wavelength (nm)', color: '#111', font: { family: serif, size: 24 }, padding: { top: 0, bottom: 2 } }
      },
      y: {
        min: 0,
        max: 100,
        afterBuildTicks: axis => { axis.ticks = transmittanceTicks.map(v => ({ value: v })); },
        afterFit: axis => { axis.width = 97; },
        grid: { display: false, drawTicks: false },
        border: { display: false },
        ticks: { color: '#111', font: { family: serif, size: 22 }, padding: 7 },
        title: { display: false }
      }
    }
  },
  plugins: [keyPlugin, framePlugin]
});
</script>
</body>
</html>
